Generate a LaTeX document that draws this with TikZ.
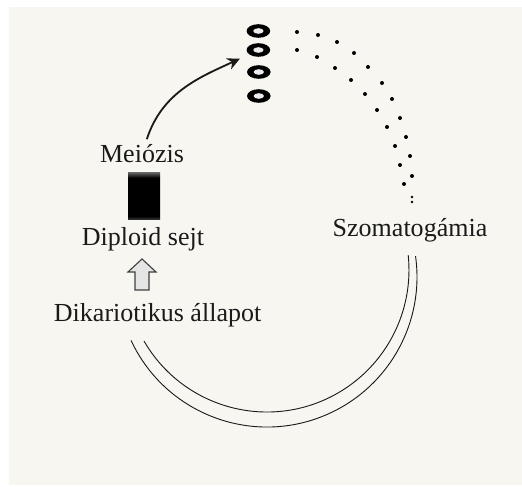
\documentclass[tikz,border=0pt]{standalone}
\usepackage{fontspec}
\setmainfont{Liberation Serif}
\usepackage{tikz}
\usetikzlibrary{arrows.meta, calc, positioning, shapes.geometric}
\definecolor{paper}{HTML}{F7F6F1}
\definecolor{inkgray}{HTML}{1A1A1A}
\pgfdeclareverticalshading{blockfade}{100bp}{
    color(0bp)=(black!75); color(25bp)=(black!75); color(29bp)=(black);
    color(70bp)=(black); color(75bp)=(black!65); color(100bp)=(black!65)}

\begin{document}
\begin{tikzpicture}[
        x=1cm,
        y=1cm,
        font=\fontsize{18.5}{22}\selectfont,
        stagelabel/.style={
            text=inkgray,
            inner sep=2pt,
            anchor=base
        },
        spore/.style={
            ellipse,
            fill=black,
            minimum width=0.59cm,
            minimum height=0.34cm,
            inner sep=0pt,
            path picture={
                \fill[white!92!black]
                    (path picture bounding box.center) ellipse (0.13 and 0.07);
            }
        },
        cycleline/.style={
            draw=inkgray,
            line width=0.65pt
        },
        sporedot/.style={
            fill=black
        }
    ]

        % Papir es keret
        \useasboundingbox (0,0) rectangle (13.05,12.15);
        \fill[white] (0,0) rectangle (13.05,12.15);
        \fill[paper] (0.225,0.025) rectangle (13.05,11.975);

        % Spórák
        \node[spore] (s1) at (6.46,11.375) {};
        \node[spore] (s2) at (6.46,10.9) {};
        \node[spore] (s3) at (6.47,10.35) {};
        \node[spore] (s4) at (6.47,9.75) {};

        % Feliratok
        \node[stagelabel] (meio) at (3.55,8.075) {Meiózis};
        \node[stagelabel] (dip) at (3.575,6.0) {Diploid sejt};
        \node[stagelabel] (dik) at (3.94,4.1) {Dikariotikus állapot};
        \node[stagelabel] (szom) at (10.25,6.225) {Szomatogámia};

        % Meiózis -> spórák
        \draw[line width=1.3pt, draw=inkgray, -{Stealth[length=9pt, width=8.5pt]},
              shorten <=2pt, shorten >=7pt]
            (meio) to[out=72, in=205] (s2);

        % Diploid sejt (fekete blokk)
        \shade[shading=blockfade] (3.2,6.65) rectangle (4.0,7.825);

        % Üres nyíl: dikarion -> diploid
        \coordinate (up) at (3.55,4.9);
        \draw[draw=black!75, line width=0.8pt, fill=black!10]
            (up) ++(-0.175,0) -- ++(0.35,0) -- ++(0,0.45)
            -- ++(0.175,0) -- (3.55,5.675) -- (3.2,5.35)
            -- ++(0.175,0) -- cycle;

        % Kettos ív: dikarion -> szomatogámia
        \coordinate (outerstart) at (3.276,3.64);
        \coordinate (innerstart) at (3.60,3.625);
        \draw[cycleline] (outerstart)
            arc[start angle=205, end angle=368, radius=3.75];
        \draw[cycleline] (innerstart)
            arc[start angle=210, end angle=366, radius=3.55];

        % Pontsorok a spórák felé
        \foreach \px/\py in {7.425/11.35, 7.95/11.275, 8.425/11.1, 8.85/10.825,
                9.2/10.475, 9.55/10.075, 9.8/9.675, 10.0/9.2, 10.15/8.725,
                10.25/8.25, 10.3/7.75}
            \fill[sporedot] (\px,\py) circle (0.05);
        \foreach \px/\py in {7.425/10.9, 7.925/10.725, 8.375/10.45, 8.775/10.15,
                9.125/9.8, 9.425/9.4, 9.675/8.975, 9.875/8.5, 10.0/8.025,
                10.1/7.55}
            \fill[sporedot] (\px,\py) circle (0.05);
        \fill[sporedot] (10.3,7.225) circle (0.035);
        \fill[sporedot] (10.3,7.1) circle (0.035);

    \end{tikzpicture}
\end{document}
